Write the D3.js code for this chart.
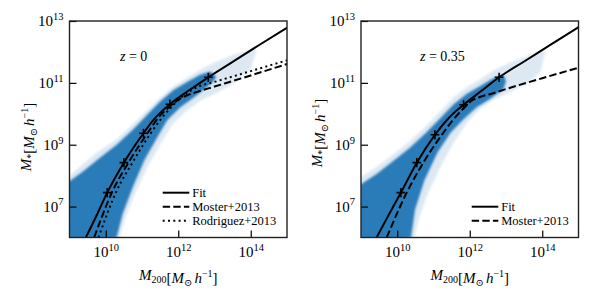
<!DOCTYPE html>
<html>
<head>
<meta charset="utf-8">
<script src="https://cdn.jsdelivr.net/npm/d3@7"></script>
<style>
  body { margin: 0; background: #fff; }
  text { font-family: 'Liberation Serif', 'DejaVu Serif', serif; }
</style>
</head>
<body>
<svg id="chart" width="600" height="300" font-family="Liberation Serif"></svg>
<script>
// all values are log10: [log M200, log M*]
const fitZ0 = [[9.45,6.0],[9.75,6.72],[10.04,7.45],[10.5,8.42],[11.04,9.37],[11.3,9.78],[11.5,10.03],[11.77,10.31],[12.3,10.76],[12.83,11.18],[13.5,11.68],[14.2,12.2],[15.0,12.78]]
const mosterZ0 = [[9.68,6.0],[10.18,7.48],[10.64,8.45],[11.15,9.37],[11.45,9.87],[11.75,10.22],[12.0,10.45],[12.25,10.6],[12.5,10.7],[13.0,10.88],[14.0,11.24],[15.0,11.61]]
const rodriguezZ0 = [[9.8,6.0],[10.29,7.48],[10.75,8.45],[11.24,9.37],[11.55,9.87],[11.85,10.27],[12.1,10.55],[12.54,10.87],[13.0,11.03],[14.0,11.38],[15.0,11.73]]
const fitPtsZ0 = [[10.04,7.45],[10.5,8.42],[11.04,9.37],[11.77,10.31],[12.83,11.18]]

const coreUpperZ0 = [[9.0,7.82],[9.38,8.14],[9.84,8.58],[10.3,9.0],[10.76,9.5],[11.13,9.95],[11.5,10.4],[11.86,10.76],[12.23,11.02],[12.6,11.26],[12.88,11.37],[13.05,11.2]]
const coreLowerZ0 = [[10.3,6.0],[10.47,6.78],[10.75,7.64],[11.07,8.51],[11.43,9.26],[11.7,9.8],[12.05,10.2],[12.42,10.52],[12.78,10.85],[12.97,11.04]]
const haloUpperZ0 = [[9.0,8.0],[9.75,8.75],[10.3,9.18],[10.76,9.68],[11.13,10.1],[11.5,10.52],[11.86,10.88],[12.23,11.15],[12.6,11.42],[13.06,11.69],[13.52,11.9],[14.12,12.12]]
const haloLowerZ0 = [[10.38,6.0],[10.55,6.67],[10.83,7.48],[11.15,8.29],[11.52,9.05],[11.86,9.69],[12.23,10.1],[12.6,10.42],[13.06,10.67],[13.52,10.99],[13.98,11.42],[14.15,12.0]]

const fitZ035 = [[9.43,6.0],[9.75,6.7],[10.1,7.45],[10.54,8.42],[11.04,9.32],[11.37,9.8],[11.6,10.07],[11.83,10.29],[12.3,10.72],[12.81,11.18],[13.5,11.69],[14.2,12.21],[15.0,12.8]]
const mosterZ035 = [[9.71,6.0],[10.26,7.45],[10.72,8.42],[11.23,9.32],[11.55,9.82],[11.85,10.2],[12.05,10.42],[12.3,10.55],[12.6,10.65],[13.0,10.8],[14.0,11.15],[15.0,11.49]]
const fitPtsZ035 = [[10.1,7.45],[10.54,8.42],[11.04,9.32],[11.83,10.29],[12.81,11.18]]

const coreUpperZ035 = [[9.0,7.72],[9.43,8.05],[9.89,8.47],[10.35,8.9],[10.81,9.4],[11.18,9.85],[11.55,10.3],[11.92,10.65],[12.29,10.9],[12.65,11.15],[12.93,11.26],[13.0,11.05]]
const coreLowerZ035 = [[10.38,6.0],[10.49,6.9],[10.75,7.85],[11.11,8.75],[11.48,9.4],[11.85,9.85],[12.2,10.22],[12.56,10.48],[12.93,10.8]]
const haloUpperZ035 = [[9.0,7.95],[9.43,8.28],[9.89,8.68],[10.35,9.12],[10.81,9.62],[11.18,10.07],[11.55,10.52],[11.92,10.86],[12.29,11.12],[12.65,11.4],[13.1,11.65],[13.6,11.87],[14.05,12.05]]
const haloLowerZ035 = [[10.47,6.0],[10.62,6.7],[10.87,7.5],[11.22,8.35],[11.57,9.1],[11.92,9.7],[12.25,10.12],[12.6,10.42],[13.1,10.7],[13.55,10.95],[13.95,11.35],[14.08,12.0]]

const xTickExp = [10, 12, 14]
const yTickExp = [7, 9, 11, 13]

const panels = [
  { left: 69.5, label: "z = 0", labelX: 120, ylabY: 137,
    fit: fitZ0, pts: fitPtsZ0,
    models: [{ name: "Moster+2013", data: mosterZ0, dash: "7.4 3.2" },
             { name: "Rodriguez+2013", data: rodriguezZ0, dash: "2 3.3" }],
    core: [coreUpperZ0, coreLowerZ0], halo: [haloUpperZ0, haloLowerZ0],
    legX: 162.7, legY: 192.7 },
  { left: 361, label: "z = 0.35", labelX: 420, ylabY: 133,
    fit: fitZ035, pts: fitPtsZ035,
    models: [{ name: "Moster+2013", data: mosterZ035, dash: "7.4 3.2" }],
    core: [coreUpperZ035, coreLowerZ035], halo: [haloUpperZ035, haloLowerZ035],
    legX: 471.7, legY: 206.7 }
]

const plotTop = 21, plotBottom = 237.5, w = 217.5
const height = plotBottom - plotTop
const serif = "Liberation Serif"

const svg = d3.select("#chart")
const defs = svg.append("defs")
defs.append("filter").attr("id", "soft")
  .append("feGaussianBlur").attr("stdDeviation", 1.0)

panels.forEach((p, i) => {
  const x = d3.scaleLog().domain([1e9, 1e15]).range([0, w])
  const y = d3.scaleLog().domain([1e6, 1e13]).range([height, 0])
  const px = d => x(Math.pow(10, d[0]))
  const py = d => y(Math.pow(10, d[1]))

  defs.append("clipPath").attr("id", `clip${i}`)
    .append("rect").attr("width", w).attr("height", height)

  const g = svg.append("g").attr("transform", `translate(${p.left},${plotTop})`)
  const plot = g.append("g").attr("clip-path", `url(#clip${i})`)

  // scatter cloud as envelopes
  const poly = d3.line().x(px).y(py).curve(d3.curveLinearClosed)
  const band = (up, lo) => [[8.8, 5.8], [8.8, up[0][1]], ...up, ...lo.slice().reverse()]
  plot.append("path").attr("d", poly(band(p.halo[0], p.halo[1])))
    .attr("fill", "#1f77b4").attr("fill-opacity", 0.16).attr("filter", "url(#soft)")
  plot.append("path").attr("d", poly(band(p.core[0], p.core[1])))
    .attr("fill", "#2b7bb9").attr("filter", "url(#soft)")

  const line = d3.line().x(px).y(py).curve(d3.curveMonotoneX)
  p.models.forEach(m => {
    plot.append("path").attr("d", line(m.data)).attr("fill", "none")
      .attr("stroke", "#000").attr("stroke-width", 2).attr("stroke-dasharray", m.dash)
  })
  plot.append("path").attr("d", line(p.fit)).attr("fill", "none")
    .attr("stroke", "#000").attr("stroke-width", 2)

  // error crosses on the fit
  const cr = plot.selectAll(".cross").data(p.pts).enter().append("g")
  cr.append("line").attr("x1", d => x(Math.pow(10, d[0] - 0.12))).attr("x2", d => x(Math.pow(10, d[0] + 0.12)))
    .attr("y1", py).attr("y2", py)
  cr.append("line").attr("x1", px).attr("x2", px)
    .attr("y1", d => y(Math.pow(10, d[1] - 0.15))).attr("y2", d => y(Math.pow(10, d[1] + 0.15)))
  cr.selectAll("line").attr("stroke", "#000").attr("stroke-width", 1.6)

  // axes
  const expLabel = function (d) {
    const t = d3.select(this).text(null).attr("font-size", 15).attr("fill", "#000")
    t.append("tspan").text("10")
    t.append("tspan").attr("dy", -6.5).attr("font-size", 10.5).text(Math.round(Math.log10(d)))
  }
  const xAxis = d3.axisBottom(x).tickValues(xTickExp.map(e => Math.pow(10, e)))
    .tickSizeInner(-7).tickSizeOuter(0).tickPadding(9)
  const yAxis = d3.axisLeft(y).tickValues(yTickExp.map(e => Math.pow(10, e)))
    .tickSizeInner(-7).tickSizeOuter(0).tickPadding(6)

  const gx = g.append("g").attr("transform", `translate(0,${height})`).call(xAxis)
  const gy = g.append("g").call(yAxis)
  ;[gx, gy].forEach(a => {
    a.select(".domain").remove()
    a.selectAll(".tick line").attr("stroke", "#000").attr("stroke-width", 1.2)
    a.selectAll(".tick text").each(expLabel)
    a.attr("font-family", serif)
  })

  g.append("rect").attr("width", w).attr("height", height)
    .attr("fill", "none").attr("stroke", "#222").attr("stroke-width", 1.4)

  // redshift label
  const zl = g.append("text").attr("x", p.labelX - p.left).attr("y", 61 - plotTop)
    .attr("font-size", 14).attr("font-family", serif)
  zl.append("tspan").attr("font-style", "italic").text("z")
  zl.append("tspan").text(p.label.slice(1))

  // axis labels
  const unit = (t) => {
    t.append("tspan").text("[")
    t.append("tspan").attr("font-style", "italic").text("M")
    t.append("tspan").attr("font-size", 10).attr("dy", 3).text("⊙")
    t.append("tspan").attr("font-style", "italic").attr("dy", -3).attr("dx", 2).text("h")
    t.append("tspan").attr("font-size", 10).attr("dy", -6).text("−1")
    t.append("tspan").attr("dy", 6).text("]")
  }
  const xl = svg.append("text").attr("x", p.left + w / 2).attr("y", 280)
    .attr("text-anchor", "middle").attr("font-size", 15).attr("font-family", serif)
  xl.append("tspan").attr("font-style", "italic").text("M")
  xl.append("tspan").attr("font-size", 10).attr("dy", 3).text("200")
  xl.append("tspan").attr("dy", -3).text("")
  unit(xl)

  const yl = svg.append("text")
    .attr("transform", `translate(${p.left - 39},${p.ylabY}) rotate(-90)`)
    .attr("text-anchor", "middle").attr("font-size", 15).attr("font-family", serif)
  yl.append("tspan").attr("font-style", "italic").text("M")
  yl.append("tspan").attr("font-size", 10).attr("dy", 3).text("*")
  yl.append("tspan").attr("dy", -3).text("")
  unit(yl)

  // legend
  const entries = [{ name: "Fit", dash: null }, ...p.models]
  const leg = svg.append("g").attr("font-family", serif)
  entries.forEach((e, k) => {
    const ly = p.legY + k * 14
    leg.append("line").attr("x1", p.legX).attr("x2", p.legX + 26.6)
      .attr("y1", ly).attr("y2", ly)
      .attr("stroke", "#000").attr("stroke-width", 2)
      .attr("stroke-dasharray", e.dash)
    leg.append("text").attr("x", p.legX + 29.5).attr("y", ly + 4.3)
      .attr("font-size", 12.5).text(e.name)
  })
})
</script>
</body>
</html>
